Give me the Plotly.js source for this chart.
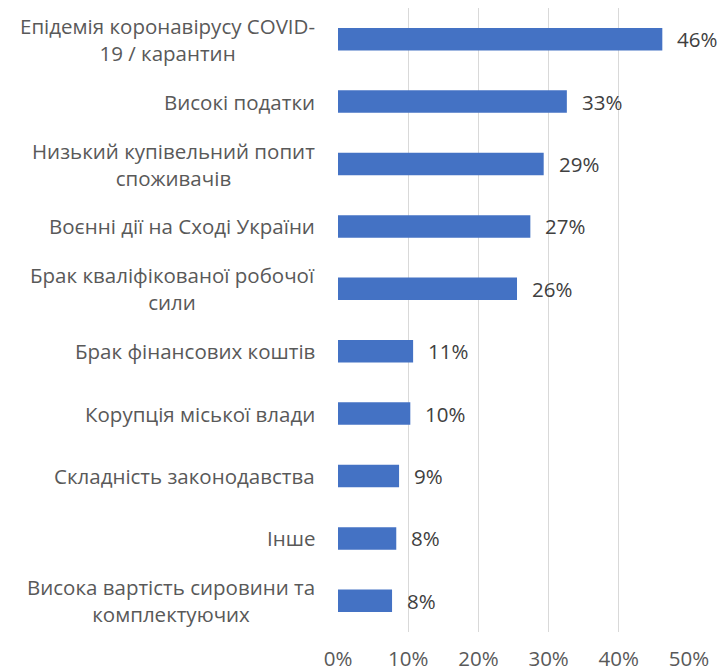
<!DOCTYPE html>
<html>
<head>
<meta charset="utf-8">
<script src="https://cdn.plot.ly/plotly-3.0.1.min.js"></script>
<style>html,body{margin:0;padding:0;background:#fff;}#chart{width:721px;height:672px;}</style>
</head>
<body>
<div id="chart"></div>
<script>
const categories = [
  "Епідемія коронавірусу COVID-<br>19 / карантин",
  "Високі податки",
  "Низький купівельний попит<br>споживачів",
  "Воєнні дії на Сході України",
  "Брак кваліфікованої робочої<br>сили",
  "Брак фінансових коштів",
  "Корупція міської влади",
  "Складність законодавства",
  "Інше",
  "Висока вартість сировини та<br>комплектуючих"
];
const values = [46.2, 32.6, 29.3, 27.4, 25.5, 10.7, 10.3, 8.7, 8.3, 7.7];
const valueLabels = ["46%", "33%", "29%", "27%", "26%", "11%", "10%", "9%", "8%", "8%"];
const tickValues = [0, 10, 20, 30, 40, 50];
const tickLabels = ["0%", "10%", "20%", "30%", "40%", "50%"];

const FONT = "Open Sans, Noto Sans, sans-serif";
const TXT = "#595959";
const FS = 20.5;

const trace = {
  type: "bar",
  orientation: "h",
  x: values,
  y: categories,
  marker: {color: "#4472C4"},
  hoverinfo: "none"
};

const annotations = [];
categories.forEach((c, i) => {
  annotations.push({
    xref: "paper", yref: "y", x: -0.06, y: c,
    xanchor: "right", yanchor: "middle", align: "center",
    text: c, showarrow: false,
    font: {family: FONT, size: FS, color: TXT}
  });
  annotations.push({
    xref: "x", yref: "y", x: values[i], y: c,
    xanchor: "left", yanchor: "middle", xshift: 13,
    text: valueLabels[i], showarrow: false,
    font: {family: FONT, size: FS, color: "#404040"}
  });
});

const layout = {
  width: 721, height: 672,
  margin: {l: 337.5, r: 31.7, t: 8.3, b: 40.3},
  paper_bgcolor: "#fff", plot_bgcolor: "#fff",
  showlegend: false,
  bargap: 0.64,
  xaxis: {
    range: [0, 50],
    tickvals: tickValues, ticktext: tickLabels,
    showgrid: true, gridcolor: "#d9d9d9", gridwidth: 1.3,
    zeroline: false, showline: false, ticks: "",
    ticklabelstandoff: 12,
    tickfont: {family: FONT, size: FS, color: TXT},
    fixedrange: true
  },
  yaxis: {
    autorange: "reversed",
    showticklabels: false, ticks: "",
    showgrid: false, zeroline: false, showline: false,
    fixedrange: true
  },
  annotations: annotations
};

Plotly.newPlot("chart", [trace], layout, {displayModeBar: false, staticPlot: true});
</script>
</body>
</html>
